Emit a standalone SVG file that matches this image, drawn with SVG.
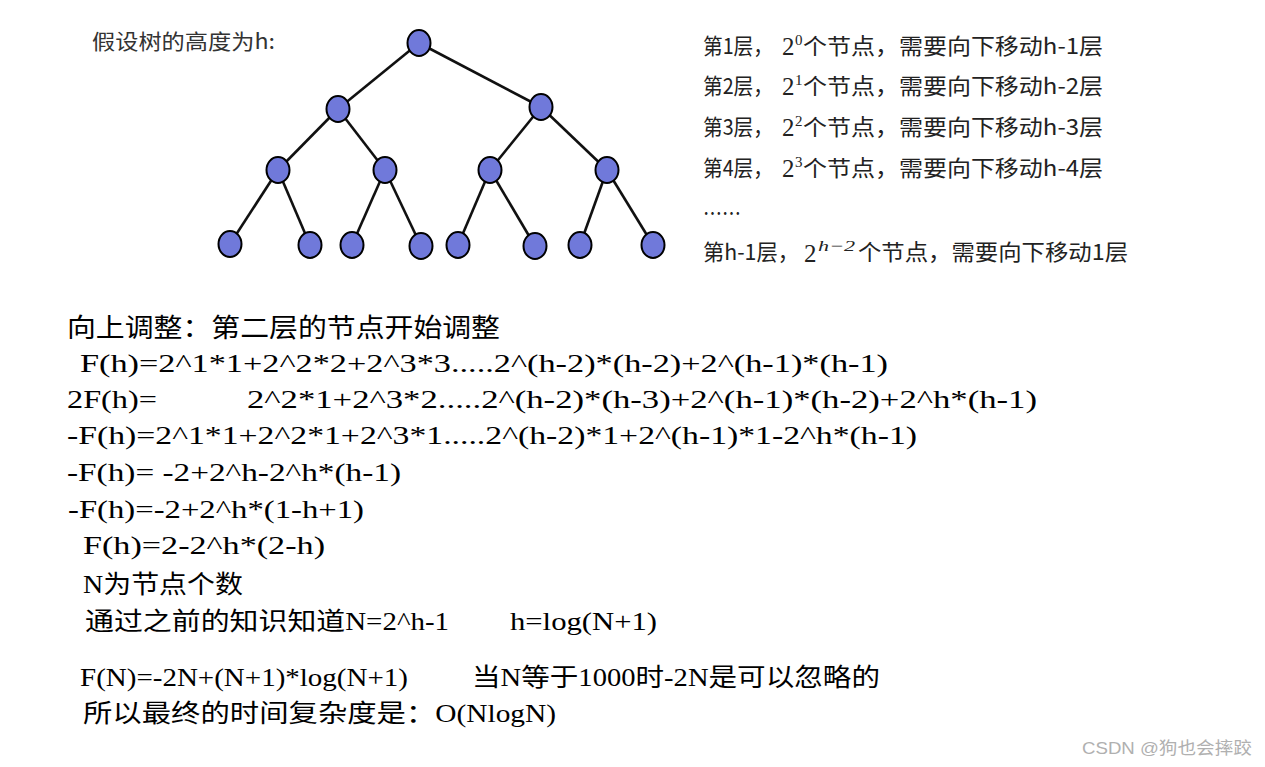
<svg xmlns="http://www.w3.org/2000/svg" width="1265" height="767" viewBox="0 0 1265 767">
<style>
.edge{stroke:#111;stroke-width:2.6;fill:none}
.nd{fill:#7079DA;stroke:#000;stroke-width:2}
.hd{font-family:"Noto Sans CJK SC","Noto Sans",sans-serif;font-size:21px;fill:#333}
.lv{font-family:"Noto Sans CJK SC","Noto Sans",sans-serif;font-size:22px;fill:#222}
.mt{font-family:"Liberation Serif",serif;font-size:25px;fill:#222}
.sup{font-family:"Liberation Serif",serif;font-size:15px;fill:#222}
.f{font-family:"Liberation Serif","Noto Sans CJK SC",serif;font-size:25px;fill:#000}
.cj{font-family:"Noto Sans CJK SC",sans-serif;font-size:26px;fill:#000}
.wm{font-family:"Liberation Sans","Noto Sans CJK SC",sans-serif;font-size:17px;fill:#b0b0b0}
</style>
<rect width="1265" height="767" fill="#fff"/>
<text class="hd" x="92" y="49" textLength="183" lengthAdjust="spacingAndGlyphs">假设树的高度为h:</text>
<g id="connectors">
<line class="edge" x1="419" y1="43" x2="338" y2="109"/>
<line class="edge" x1="419" y1="43" x2="541" y2="107"/>
<line class="edge" x1="338" y1="109" x2="278" y2="170"/>
<line class="edge" x1="338" y1="109" x2="385" y2="170"/>
<line class="edge" x1="541" y1="107" x2="490" y2="170"/>
<line class="edge" x1="541" y1="107" x2="607" y2="170"/>
<line class="edge" x1="278" y1="170" x2="230" y2="244"/>
<line class="edge" x1="278" y1="170" x2="310" y2="245"/>
<line class="edge" x1="385" y1="170" x2="352" y2="245"/>
<line class="edge" x1="385" y1="170" x2="421" y2="246"/>
<line class="edge" x1="490" y1="170" x2="458" y2="245"/>
<line class="edge" x1="490" y1="170" x2="535" y2="246"/>
<line class="edge" x1="607" y1="170" x2="580" y2="245"/>
<line class="edge" x1="607" y1="170" x2="653" y2="245"/>
</g>
<g id="n1"><ellipse class="nd" cx="419" cy="43" rx="11.5" ry="13"/></g>
<g id="n2"><ellipse class="nd" cx="338" cy="109" rx="11.5" ry="13"/></g>
<g id="n3"><ellipse class="nd" cx="541" cy="107" rx="11.5" ry="13"/></g>
<g id="n4"><ellipse class="nd" cx="278" cy="170" rx="11.5" ry="13"/></g>
<g id="n5"><ellipse class="nd" cx="385" cy="170" rx="11.5" ry="13"/></g>
<g id="n6"><ellipse class="nd" cx="490" cy="170" rx="11.5" ry="13"/></g>
<g id="n7"><ellipse class="nd" cx="607" cy="170" rx="11.5" ry="13"/></g>
<g id="n8"><ellipse class="nd" cx="230" cy="244" rx="11.5" ry="13"/></g>
<g id="n9"><ellipse class="nd" cx="310" cy="245" rx="11.5" ry="13"/></g>
<g id="n10"><ellipse class="nd" cx="352" cy="245" rx="11.5" ry="13"/></g>
<g id="n11"><ellipse class="nd" cx="421" cy="246" rx="11.5" ry="13"/></g>
<g id="n12"><ellipse class="nd" cx="458" cy="245" rx="11.5" ry="13"/></g>
<g id="n13"><ellipse class="nd" cx="535" cy="246" rx="11.5" ry="13"/></g>
<g id="n14"><ellipse class="nd" cx="580" cy="245" rx="11.5" ry="13"/></g>
<g id="n15"><ellipse class="nd" cx="653" cy="245" rx="11.5" ry="13"/></g>

<g id="levels">
<text class="lv" x="703" y="54" textLength="70" lengthAdjust="spacingAndGlyphs">第1层，</text>
<text class="mt" x="782" y="55">2</text><text class="sup" x="795" y="45">0</text>
<text class="lv" x="803" y="54" textLength="300" lengthAdjust="spacingAndGlyphs">个节点，需要向下移动h-1层</text>
<text class="lv" x="703" y="94" textLength="70" lengthAdjust="spacingAndGlyphs">第2层，</text>
<text class="mt" x="782" y="95">2</text><text class="sup" x="795" y="85">1</text>
<text class="lv" x="803" y="94" textLength="300" lengthAdjust="spacingAndGlyphs">个节点，需要向下移动h-2层</text>
<text class="lv" x="703" y="135" textLength="70" lengthAdjust="spacingAndGlyphs">第3层，</text>
<text class="mt" x="782" y="136">2</text><text class="sup" x="795" y="126">2</text>
<text class="lv" x="803" y="135" textLength="300" lengthAdjust="spacingAndGlyphs">个节点，需要向下移动h-3层</text>
<text class="lv" x="703" y="176" textLength="70" lengthAdjust="spacingAndGlyphs">第4层，</text>
<text class="mt" x="782" y="177">2</text><text class="sup" x="795" y="167">3</text>
<text class="lv" x="803" y="176" textLength="300" lengthAdjust="spacingAndGlyphs">个节点，需要向下移动h-4层</text>
<text class="lv" x="703" y="221" textLength="38" lengthAdjust="spacingAndGlyphs">……</text>
<text class="lv" x="703" y="260" textLength="96" lengthAdjust="spacingAndGlyphs">第h-1层，</text>
<text class="mt" x="804" y="262">2</text><text class="sup" x="818" y="251" font-style="italic" textLength="37" lengthAdjust="spacingAndGlyphs">h−2</text>
<text class="lv" x="858" y="260" textLength="270" lengthAdjust="spacingAndGlyphs">个节点，需要向下移动1层</text>
</g>

<g id="derivation">
<text class="cj" x="67" y="337" textLength="433" lengthAdjust="spacingAndGlyphs">向上调整：第二层的节点开始调整</text>
<text class="f" x="80" y="372" textLength="808" lengthAdjust="spacingAndGlyphs">F(h)=2^1*1+2^2*2+2^3*3.....2^(h-2)*(h-2)+2^(h-1)*(h-1)</text>
<text class="f" x="67" y="408" textLength="90" lengthAdjust="spacingAndGlyphs">2F(h)=</text>
<text class="f" x="247" y="408" textLength="790" lengthAdjust="spacingAndGlyphs">2^2*1+2^3*2.....2^(h-2)*(h-3)+2^(h-1)*(h-2)+2^h*(h-1)</text>
<text class="f" x="67" y="444" textLength="850" lengthAdjust="spacingAndGlyphs">-F(h)=2^1*1+2^2*1+2^3*1.....2^(h-2)*1+2^(h-1)*1-2^h*(h-1)</text>
<text class="f" x="67" y="481" textLength="334" lengthAdjust="spacingAndGlyphs">-F(h)= -2+2^h-2^h*(h-1)</text>
<text class="f" x="68" y="518" textLength="296" lengthAdjust="spacingAndGlyphs">-F(h)=-2+2^h*(1-h+1)</text>
<text class="f" x="83" y="554" textLength="242" lengthAdjust="spacingAndGlyphs">F(h)=2-2^h*(2-h)</text>
<text class="f" x="83" y="593" textLength="160" lengthAdjust="spacingAndGlyphs">N为节点个数</text>
<text class="f" x="85" y="630" textLength="364" lengthAdjust="spacingAndGlyphs">通过之前的知识知道N=2^h-1</text>
<text class="f" x="510" y="630" textLength="147" lengthAdjust="spacingAndGlyphs">h=log(N+1)</text>
<text class="f" x="80" y="686" textLength="328" lengthAdjust="spacingAndGlyphs">F(N)=-2N+(N+1)*log(N+1)</text>
<text class="f" x="472" y="686" textLength="408" lengthAdjust="spacingAndGlyphs">当N等于1000时-2N是可以忽略的</text>
<text class="f" x="83" y="722" textLength="473" lengthAdjust="spacingAndGlyphs">所以最终的时间复杂度是：O(NlogN)</text>
</g>
<text class="wm" x="1082" y="754" textLength="170" lengthAdjust="spacingAndGlyphs">CSDN @狗也会摔跤</text>
</svg>
